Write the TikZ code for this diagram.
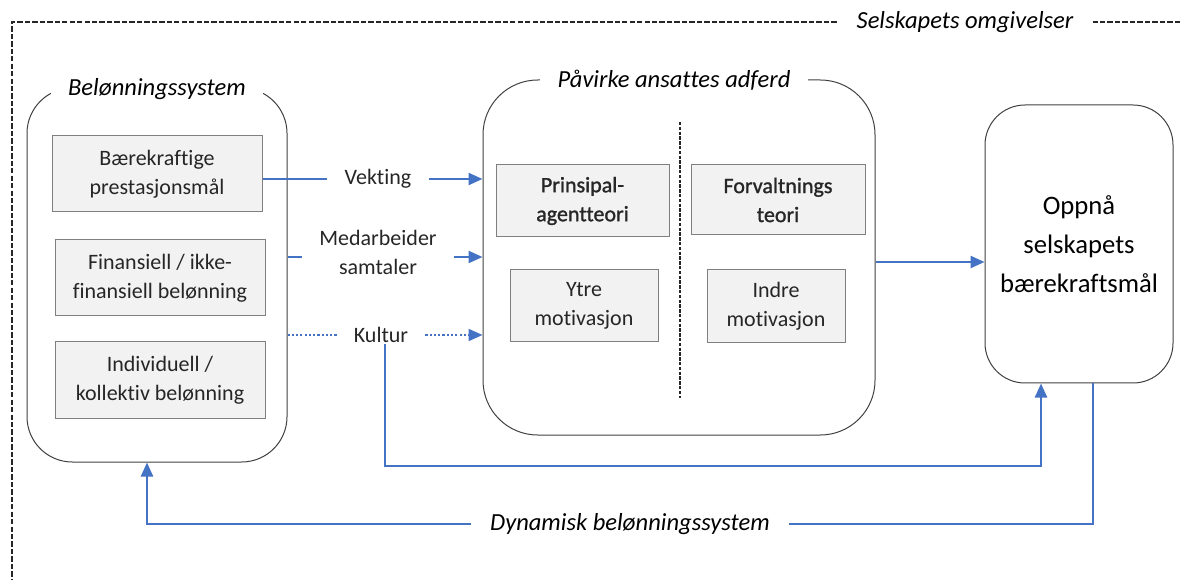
\documentclass[tikz,border=0pt]{standalone}
\usepackage{fontspec}
\setmainfont[Ligatures=CommonOff]{Carlito}
\newfontfamily\semibold[FakeBold=1.2,Ligatures=CommonOff]{Carlito}
\usetikzlibrary{arrows.meta}
\definecolor{linkblue}{HTML}{4472C4}
\definecolor{boxfill}{HTML}{F2F2F2}
\definecolor{boxedge}{HTML}{7F7F7F}
\definecolor{paneledge}{HTML}{404040}
\tikzset{
  txt/.style={font=\fontsize{16.5pt}{21.75pt}\selectfont, align=center, text=black!85},
  graybox/.style={txt, draw=boxedge, fill=boxfill, line width=0.75pt, inner sep=0pt},
  panel/.style={draw=paneledge, line width=0.75pt, rounded corners=#1, inner sep=0pt},
  title/.style={font=\fontsize{18.4pt}{22pt}\selectfont\itshape, fill=white, inner xsep=13pt, inner ysep=2pt},
  flowlabel/.style={txt, inner xsep=12.75pt, inner ysep=1pt},
  flow/.style={draw=linkblue, line width=1.75pt},
  arrowed/.style={-{Triangle[length=10.5pt,width=9pt]}},
  dotline/.style={dash pattern=on 1.6pt off 1.6pt, line width=1.4pt},
}
\begin{document}
\begin{tikzpicture}[x=0.75pt,y=-0.75pt]
\useasboundingbox (0,0) rectangle (1180,580);

% surrounding frame
\draw[line width=1pt, black!85, dash pattern=on 4pt off 1.6pt] (1180,22) -- (12,22) -- (12,580);
\node[title] (env) at (965,22) {Selskapets omgivelser};

% reward system panel
\node[panel=34pt, minimum width=195pt, minimum height=280.5pt] (bel) at (157,275) {};
\node[title] (belT) at (157,89) {Belønningssystem};
\node[graybox, minimum width=157.5pt, minimum height=57pt] (b1) at (157,174) {Bærekraftige\\prestasjonsmål};
\node[graybox, minimum width=157.5pt, minimum height=57pt] (b2) at (160,278) {Finansiell / ikke-\\finansiell belønning};
\node[graybox, minimum width=157.5pt, minimum height=57pt] (b3) at (160,380) {Individuell /\\kollektiv belønning};

% behaviour panel
\node[panel=41pt, minimum width=294pt, minimum height=266.25pt] (mid) at (679,257.5) {};
\node[title] (midT) at (674,80) {Påvirke ansattes adferd};
\coordinate (divTop) at (680,122);
\coordinate (divBot) at (680,398);
\draw[line width=1.1pt, black!85, dash pattern=on 2.5pt off 1.1pt] (divTop) -- (divBot);
\node[graybox, minimum width=129.75pt, minimum height=54pt, font=\fontsize{16.5pt}{21.75pt}\semibold] (pa) at (582.5,201) {Prinsipal-\\agentteori};
\node[graybox, minimum width=130.5pt, minimum height=52.5pt, font=\fontsize{16.5pt}{21.75pt}\semibold] (fo) at (778,200) {Forvaltnings\\teori};
\node[graybox, minimum width=111pt, minimum height=54pt] (yt) at (584,306) {Ytre\\motivasjon};
\node[graybox, minimum width=103.5pt, minimum height=54.75pt] (indre) at (776,306.5) {Indre\\motivasjon};

% goal panel
\node[panel=30pt, minimum width=141pt, minimum height=208.5pt, align=center,
      font=\fontsize{20pt}{29pt}\selectfont] (goal) at (1079,244) {Oppnå\\selskapets\\bærekraftsmål};

% influence channels
\node[flowlabel] (vk) at (378,179) {Vekting};
\node[flowlabel] (md) at (378,252) {Medarbeider\\samtaler};
\node[flowlabel] (ku) at (381,335) {Kultur};
\coordinate (row2) at (0,257);

\draw[flow] (b1.east |- vk) -- (vk.west);
\draw[flow, arrowed] (vk.east) -- (mid.west |- vk);
\draw[flow] (bel.east |- row2) -- (md.west |- row2);
\draw[flow, arrowed] (md.east |- row2) -- (mid.west |- row2);
\draw[flow, dotline] (bel.east |- ku) -- (ku.west);
\draw[flow, dotline, arrowed] (ku.east) -- (mid.west |- ku);

% behaviour to goal
\coordinate (row4) at (0,262);
\draw[flow, arrowed] (mid.east |- row4) -- (goal.west |- row4);

% culture feeding the goal
\coordinate (k1) at (385,466);
\coordinate (k2) at (1041,466);
\draw[flow, arrowed] (ku.south -| k1) -- (k1) -- (k2) -- (goal.south -| k2);

% feedback loop
\node[title, inner xsep=14pt] (dyn) at (630,524) {Dynamisk belønningssystem};
\coordinate (d1) at (1093,524);
\coordinate (d2) at (147,524);
\draw[flow] (goal.south -| d1) -- (d1) -- (dyn.east);
\draw[flow, arrowed] (dyn.west) -- (d2) -- (bel.south -| d2);
\end{tikzpicture}
\end{document}
